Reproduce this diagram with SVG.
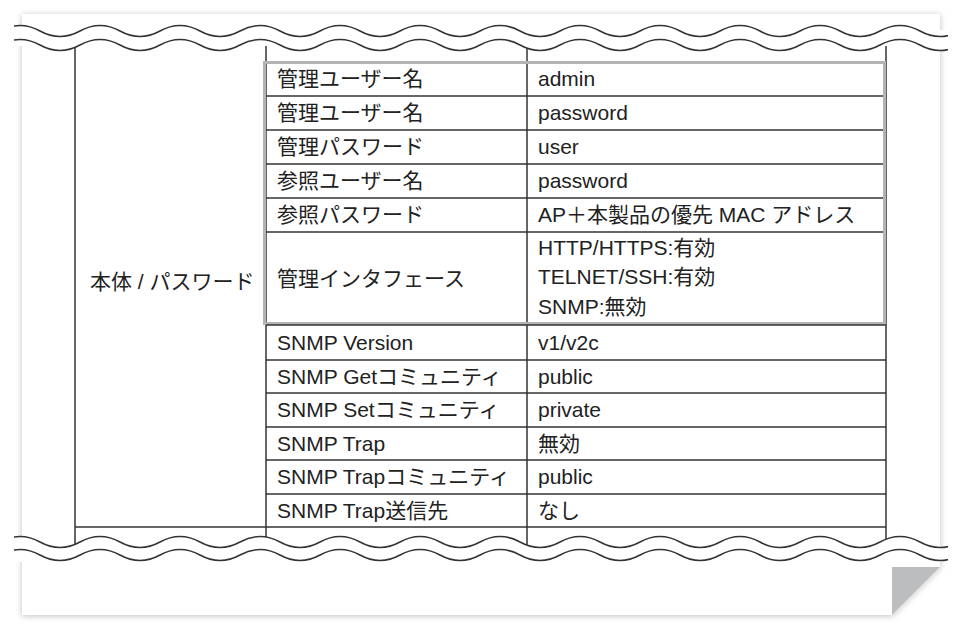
<svg xmlns="http://www.w3.org/2000/svg" width="964" height="626" viewBox="0 0 964 626">
<defs>
<filter id="sh" x="-5%" y="-5%" width="110%" height="110%"><feDropShadow dx="0" dy="1" stdDeviation="3" flood-color="#000" flood-opacity="0.25"/></filter>
<path id="w" d="M 0 0 q 20 -11 40 0 t 40 0 t 40 0 t 40 0 t 40 0 t 40 0 t 40 0 t 40 0 t 40 0 t 40 0 t 40 0 t 40 0 t 40 0 t 40 0 t 40 0 t 40 0 t 40 0 t 40 0 t 40 0 t 40 0 t 40 0 t 40 0 t 40 0 t 40 0 t 40 0"/>
<clipPath id="cp"><rect x="14" y="0" width="934" height="626"/></clipPath>
</defs>
<style>
text{font-family:"Liberation Sans","Noto Sans CJK JP",sans-serif;font-size:21px;fill:#222}
.g{stroke:#333;stroke-width:1.5;fill:none}
.wv{stroke:#333;stroke-width:1.5;fill:none}
</style>
<rect width="964" height="626" fill="#fff"/>
<polygon points="22,14 940,14 940,567 892,615 22,615" fill="#fff" filter="url(#sh)"/>
<polygon points="892,567 940,567 892,615" fill="#bcbdbf"/>
<g id="connectors" class="g">
<line x1="75" y1="45" x2="75" y2="545"/>
<line x1="266" y1="45" x2="266" y2="545"/>
<line x1="527" y1="45" x2="527" y2="545"/>
<line x1="886" y1="45" x2="886" y2="545"/>
<line x1="264" y1="96" x2="884" y2="96"/>
<line x1="264" y1="130" x2="884" y2="130"/>
<line x1="264" y1="164" x2="884" y2="164"/>
<line x1="264" y1="198" x2="884" y2="198"/>
<line x1="264" y1="232" x2="884" y2="232"/>
<line x1="266" y1="360" x2="886" y2="360"/>
<line x1="266" y1="393" x2="886" y2="393"/>
<line x1="266" y1="427" x2="886" y2="427"/>
<line x1="266" y1="460" x2="886" y2="460"/>
<line x1="266" y1="494" x2="886" y2="494"/>
<line x1="75" y1="527" x2="886" y2="527"/>
</g>
<rect x="264.5" y="62.5" width="620" height="261" fill="none" stroke="#b3b3b3" stroke-width="3"/>
<line x1="266" y1="325" x2="886" y2="325" stroke="#333" stroke-width="1.5"/>
<g clip-path="url(#cp)">
<path d="M 0 31 q 20 -11 40 0 t 40 0 t 40 0 t 40 0 t 40 0 t 40 0 t 40 0 t 40 0 t 40 0 t 40 0 t 40 0 t 40 0 t 40 0 t 40 0 t 40 0 t 40 0 t 40 0 t 40 0 t 40 0 t 40 0 t 40 0 t 40 0 t 40 0 t 40 0 t 40 0 V 46 H 0 Z" fill="#fff"/>
<path d="M 0 45 q 20 -11 40 0 t 40 0 t 40 0 t 40 0 t 40 0 t 40 0 t 40 0 t 40 0 t 40 0 t 40 0 t 40 0 t 40 0 t 40 0 t 40 0 t 40 0 t 40 0 t 40 0 t 40 0 t 40 0 t 40 0 t 40 0 t 40 0 t 40 0 t 40 0 t 40 0 V 30 H 0 Z" fill="#fff"/>
<use href="#w" x="0" y="31" class="wv"/>
<use href="#w" x="0" y="45" class="wv"/>
<path d="M 0 542 q 20 -11 40 0 t 40 0 t 40 0 t 40 0 t 40 0 t 40 0 t 40 0 t 40 0 t 40 0 t 40 0 t 40 0 t 40 0 t 40 0 t 40 0 t 40 0 t 40 0 t 40 0 t 40 0 t 40 0 t 40 0 t 40 0 t 40 0 t 40 0 t 40 0 t 40 0 V 562 H 0 Z" fill="#fff"/>
<use href="#w" x="0" y="542" class="wv"/>
<use href="#w" x="0" y="555" class="wv"/>
</g>
<g id="n-body"><text x="90" y="289">本体 / パスワード</text></g>
<g id="rows">
<text x="277" y="86">管理ユーザー名</text><text x="538" y="86">admin</text>
<text x="277" y="120">管理ユーザー名</text><text x="538" y="120">password</text>
<text x="277" y="154">管理パスワード</text><text x="538" y="154">user</text>
<text x="277" y="188">参照ユーザー名</text><text x="538" y="188">password</text>
<text x="277" y="222">参照パスワード</text><text x="538" y="222">AP＋本製品の優先 MAC アドレス</text>
<text x="277" y="286">管理インタフェース</text>
<text x="538" y="255">HTTP/HTTPS:有効</text>
<text x="538" y="284">TELNET/SSH:有効</text>
<text x="538" y="314">SNMP:無効</text>
<text x="277" y="350">SNMP Version</text><text x="538" y="350">v1/v2c</text>
<text x="277" y="384">SNMP Getコミュニティ</text><text x="538" y="384">public</text>
<text x="277" y="417">SNMP Setコミュニティ</text><text x="538" y="417">private</text>
<text x="277" y="451">SNMP Trap</text><text x="538" y="451">無効</text>
<text x="277" y="484">SNMP Trapコミュニティ</text><text x="538" y="484">public</text>
<text x="277" y="518">SNMP Trap送信先</text><text x="538" y="518">なし</text>
</g>
</svg>
